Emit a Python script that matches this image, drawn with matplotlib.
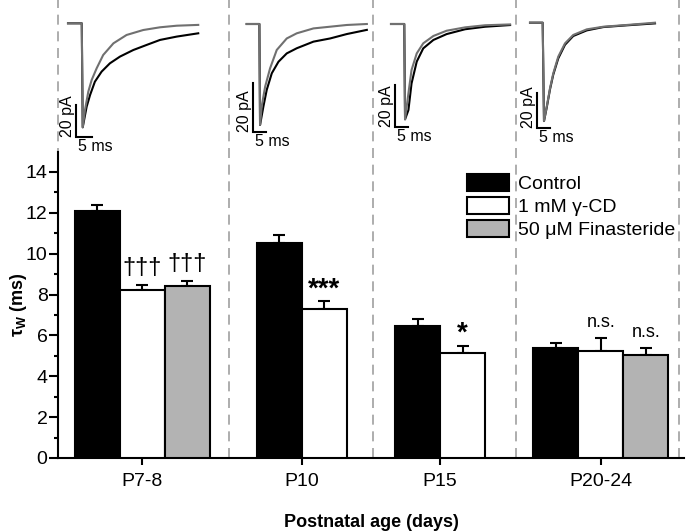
import numpy as np
import matplotlib.pyplot as plt

plt.rcParams['font.family'] = ['Liberation Sans', 'DejaVu Sans']
plt.rcParams['mathtext.fontset'] = 'custom'
plt.rcParams['mathtext.rm'] = 'Liberation Sans'
plt.rcParams['mathtext.it'] = 'Liberation Sans:italic'

# bar data (tau_W, ms)
groups = ['P7-8', 'P10', 'P15', 'P20-24']
conditions = ['Control', '1 mM γ-CD', '50 μM Finasteride']
control = [12.1, 10.5, 6.45, 5.4]
control_err = [0.27, 0.4, 0.33, 0.21]
gcd = [8.2, 7.27, 5.14, 5.23]
gcd_err = [0.25, 0.39, 0.34, 0.62]
finasteride = [8.42, None, None, 5.06]
finasteride_err = [0.26, None, None, 0.31]
marks_gcd = ['†††', '***', '*', 'n.s.']
marks_fin = ['†††', '', '', 'n.s.']

# example traces (ms, pA)
tr1_gray_t = [0, 4.3, 4.6, 5.3, 6.35, 7.4, 8.96, 11.0, 14.2, 18.3, 23.5, 28.75, 34.0, 40.7]
tr1_gray_i = [0, 0, -65, -54.2, -42.7, -35.4, -28.1, -19.8, -12.5, -7.3, -4.2, -2.5, -1.5, -1.0]
tr1_black_t = [0, 4.3, 4.6, 5.83, 6.9, 8.4, 10.5, 13.1, 16.25, 20.4, 24.6, 28.75, 34.0, 40.7]
tr1_black_i = [0, 0, -65, -52.1, -44.8, -36.5, -30.2, -25.0, -20.8, -16.7, -13.5, -10.4, -8.3, -6.25]

tr2_gray_t = [0, 4.75, 5.0, 5.6, 6.9, 8.75, 11.25, 15, 18.75, 25, 31.25, 37.5, 45]
tr2_gray_i = [0, 0, -41.2, -33.7, -25.6, -18.1, -10.6, -5.9, -3.8, -1.8, -1.1, -0.4, 0]
tr2_black_t = [0, 4.75, 5.0, 6.25, 7.5, 9.4, 11.9, 15, 18.75, 25, 31.25, 37.5, 45]
tr2_black_i = [0, 0, -41.2, -33.7, -26.9, -20.1, -15.4, -12.0, -9.9, -7.2, -5.9, -4.1, -2.4]

tr3_t = [0, 5.1, 5.4, 6.7, 7.9, 9.9, 12.4, 16.3, 21.4, 28.5, 36.2, 45.8]
tr3_gray_i = [0, 0, -45.4, -33, -21.9, -14, -9.2, -5.7, -3.2, -1.6, -0.6, -0.2]
tr3_black_i = [0, 0, -45.4, -41, -28.3, -17.9, -11.6, -7.6, -4.8, -2.5, -1.3, -0.5]

tr4_t = [0, 5.07, 5.6, 6.7, 8, 9.3, 11.3, 14, 17.3, 22.7, 29.3, 38.7, 50]
tr4_gray_i = [0, 0, -56.2, -48, -37.5, -29, -19.4, -11.8, -7, -3.8, -2.3, -1.3, 0]
tr4_black_i = [0, 0, -56.2, -48.4, -38.1, -29.7, -20.4, -12.6, -7.6, -4.4, -2.5, -1.5, -0.4]

W, H = 688, 532
fig = plt.figure(figsize=(W / 100, H / 100), dpi=100)

# main axes, x in units of one bar width
ax = fig.add_axes([58 / W, 1 - 458 / H, (684 - 58) / W, (458 - 151.5) / H])
ax.set_xlim(0, (684 - 58) / 45)
ax.set_ylim(0, 15)

centers = [1.87, 5.42, 8.49, 12.06]
n_bars = [3, 2, 2, 3]
dividers = [0, 3.8, 7.0, 10.18, 13.8]

for i, c in enumerate(centers):
    off = -1 if n_bars[i] == 3 else -0.5
    xs = [c + off, c + off + 1, c + off + 2]
    vals = [control[i], gcd[i], finasteride[i]]
    errs = [control_err[i], gcd_err[i], finasteride_err[i]]
    cols = ['black', 'white', '#b3b3b3']
    for k in range(n_bars[i]):
        ax.bar(xs[k], vals[k], width=1, color=cols[k], edgecolor='black',
               linewidth=1.5, zorder=3,
               label=conditions[k] if i == 0 else None)
        ax.errorbar(xs[k], vals[k], yerr=[[0], [errs[k]]], fmt='none',
                    ecolor='black', elinewidth=1.5, capsize=4, capthick=1.5, zorder=2)
    # significance marks
    for k, m in [(1, marks_gcd[i]), (2, marks_fin[i])]:
        if not m:
            continue
        top = vals[k] + errs[k]
        if m.startswith('†'):
            ax.text(xs[k], top + 0.3, m, ha='center', va='bottom', fontsize=17)
        elif m.startswith('*'):
            ax.text(xs[k], top - 0.05, m, ha='center', va='bottom', fontsize=20,
                    fontweight='bold')
        else:
            ax.text(xs[k], top + 0.35, m, ha='center', va='bottom', fontsize=13)

for d in dividers:
    ax.axvline(d, ymin=0, ymax=458 / (458 - 151.5), color='#a0a0a0', lw=1.2,
               ls=(0, (6, 4)), clip_on=False, zorder=1)

ax.spines['top'].set_visible(False)
ax.spines['right'].set_visible(False)
ax.spines['left'].set_linewidth(1.5)
ax.spines['bottom'].set_linewidth(1.5)
ax.set_yticks(range(0, 15, 2))
ax.set_yticks(range(1, 15, 2), minor=True)
ax.set_xticks(centers)
ax.set_xticklabels(groups)
ax.tick_params(axis='y', which='major', length=6.5, width=1.5, labelsize=14, pad=1)
ax.tick_params(axis='y', which='minor', length=3.2, width=1.5)
ax.tick_params(axis='x', length=5, width=1.5, labelsize=14, pad=6)
ax.set_ylabel(r'$\mathregular{\tau_W}$ (ms)', fontsize=13, fontweight='bold')
ax.yaxis.set_label_coords((29 - 58) / 626, 0.5)
ax.set_xlabel('Postnatal age (days)', fontsize=13, fontweight='bold', labelpad=17)

ax.legend(loc='upper left', bbox_to_anchor=(467 / W, 1 - 174 / H),
          bbox_transform=fig.transFigure, frameon=False, fontsize=14,
          handlelength=2.15, handleheight=0.95, handletextpad=0.45,
          labelspacing=0.2, borderpad=0, borderaxespad=0)

# trace insets: (start px, baseline px, px per ms, px per pA, scale-bar corner px)
panels = [
    (tr1_gray_t, tr1_gray_i, tr1_black_t, tr1_black_i, 68, 23.3, 3.2, 1.6, (76, 137)),
    (tr2_gray_t, tr2_gray_i, tr2_black_t, tr2_black_i, 246.7, 24, 2.67, 2.45, (253, 132)),
    (tr3_t, tr3_gray_i, tr3_t, tr3_black_i, 391, 24, 2.6, 2.1, (395, 127)),
    (tr4_t, tr4_gray_i, tr4_t, tr4_black_i, 530, 22.7, 2.5, 1.75, (537, 128)),
]
for gt, gi, bt, bi, t0, base, pms, ppa, corner in panels:
    x0, x1, y0, y1 = t0 - 30, t0 + 150, 5, 160
    iax = fig.add_axes([x0 / W, 1 - y1 / H, (x1 - x0) / W, (y1 - y0) / H])
    iax.set_xlim((x0 - t0) / pms, (x1 - t0) / pms)
    iax.set_ylim(-(y1 - base) / ppa, -(y0 - base) / ppa)
    iax.axis('off')
    iax.plot(bt, bi, color='black', lw=1.5)
    iax.plot(gt, gi, color='#707070', lw=1.5)
    ct = (corner[0] - t0) / pms
    ci = -(corner[1] - base) / ppa
    iax.plot([ct, ct, ct + 5], [ci + 20, ci, ci], color='black', lw=1.5,
             solid_joinstyle='miter')
    iax.text(ct - 1.2 / pms, ci, '20 pA', rotation=90, ha='right', va='bottom', fontsize=11.5)
    iax.text(ct + 2 / pms, ci - 2 / ppa, '5 ms', ha='left', va='top', fontsize=11.5)

fig.savefig('out.png', dpi=100)
